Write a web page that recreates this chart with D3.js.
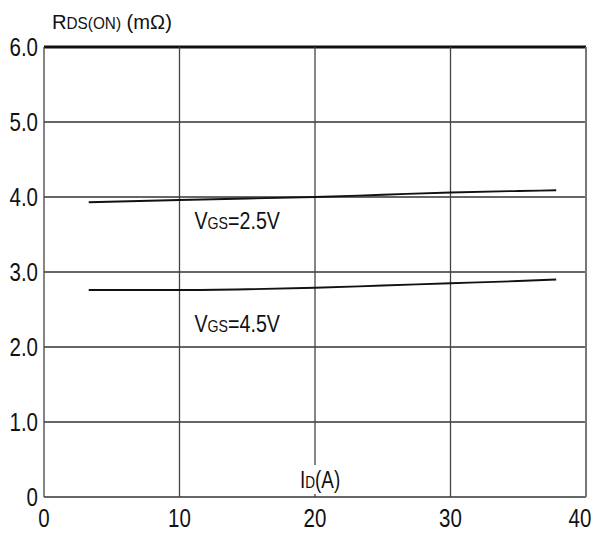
<!DOCTYPE html>
<html>
<head>
<meta charset="utf-8">
<script src="https://cdn.jsdelivr.net/npm/d3@7"></script>
<style>
	body { margin: 0; background: #fff; }
	svg text { font-family: 'Liberation Sans', Arial, sans-serif; fill: #111; }
</style>
</head>
<body>
<div class="chart"></div>
<script>
const xTicks = [0, 10, 20, 30, 40]
const yTicks = [0, 1, 2, 3, 4, 5, 6]
const yTickLabels = ['0', '1.0', '2.0', '3.0', '4.0', '5.0', '6.0']
const id25 = [3.3, 10, 15, 20, 25, 30, 35, 37.8]
const r25 = [3.93, 3.96, 3.98, 4.0, 4.03, 4.06, 4.08, 4.09]
const id45 = [3.3, 10, 15, 20, 25, 30, 35, 37.8]
const r45 = [2.76, 2.76, 2.77, 2.79, 2.82, 2.85, 2.88, 2.9]

const margin = { top: 47, right: 7, bottom: 36, left: 44 }
const W = 593, H = 533
const width = W - margin.left - margin.right
const height = H - margin.top - margin.bottom
const squeeze = 0.82

const svg = d3.select('.chart').append('svg')
	.attr('width', W)
	.attr('height', H)

const g = svg.append('g')
	.attr('transform', `translate(${margin.left},${margin.top})`)

const x = d3.scaleLinear().domain([0, 40]).range([0, width])
const y = d3.scaleLinear().domain([0, 6]).range([height, 0])

// grid
g.append('g')
	.selectAll('line')
	.data(yTicks)
	.enter().append('line')
		.attr('x1', 0)
		.attr('x2', width)
		.attr('y1', d => y(d))
		.attr('y2', d => y(d))
		.attr('stroke', d => d === 6 ? '#111' : '#333')
		.attr('stroke-width', d => d === 6 ? 3 : 1.3)

g.append('g')
	.selectAll('line')
	.data(xTicks)
	.enter().append('line')
		.attr('x1', d => x(d))
		.attr('x2', d => x(d))
		.attr('y1', 0)
		.attr('y2', height)
		.attr('stroke', d => d === 40 ? '#777' : '#444')
		.attr('stroke-width', d => d === 40 ? 2 : 1.3)

// curves
const line = d3.line()
	.x(d => x(d[0]))
	.y(d => y(d[1]))
	.curve(d3.curveMonotoneX)

const series = [d3.zip(id25, r25), d3.zip(id45, r45)]
g.append('g')
	.selectAll('path')
	.data(series)
	.enter().append('path')
		.attr('d', line)
		.attr('fill', 'none')
		.attr('stroke', '#111')
		.attr('stroke-width', 1.8)

// axis tick labels (the scan uses a narrow face, so squeeze horizontally)
g.append('g')
	.selectAll('text')
	.data(yTicks)
	.enter().append('text')
		.attr('transform', d => `translate(-6,${y(d) + 9}) scale(${squeeze},1)`)
		.attr('text-anchor', 'end')
		.attr('font-size', 25)
		.text((d, i) => yTickLabels[i])

g.append('g')
	.selectAll('text')
	.data(xTicks)
	.enter().append('text')
		.attr('transform', d => `translate(${d === 40 ? x(d) - 6 : x(d)},${height + 30}) scale(${squeeze},1)`)
		.attr('text-anchor', 'middle')
		.attr('font-size', 25)
		.text(d => d)

// labels with a small-caps style subscript
function subLabel(sel, px, py, main, sub, rest, size, sx, ratio) {
	const t = sel.append('text')
		.attr('transform', `translate(${px},${py}) scale(${sx},1)`)
		.attr('font-size', size)
	t.append('tspan').text(main)
	t.append('tspan').attr('font-size', size * ratio).text(sub)
	t.append('tspan').text(rest)
	return t
}

subLabel(g, x(11.1), y(3.58), 'V', 'GS', '=2.5V', 24, squeeze, 0.72)
subLabel(g, x(11.1), y(2.2), 'V', 'GS', '=4.5V', 24, squeeze, 0.72)

// axis titles
subLabel(svg, 52, 29, 'R', 'DS(ON)', ' (mΩ)', 21, 0.96, 0.76)

const idLabel = g.append('g')
idLabel.append('rect')
	.attr('x', x(20) - 20)
	.attr('y', height - 32)
	.attr('width', 48)
	.attr('height', 29)
	.attr('fill', '#fff')
subLabel(idLabel, x(20) - 15, height - 9, 'I', 'D', '(A)', 23, squeeze, 0.72)
</script>
</body>
</html>
